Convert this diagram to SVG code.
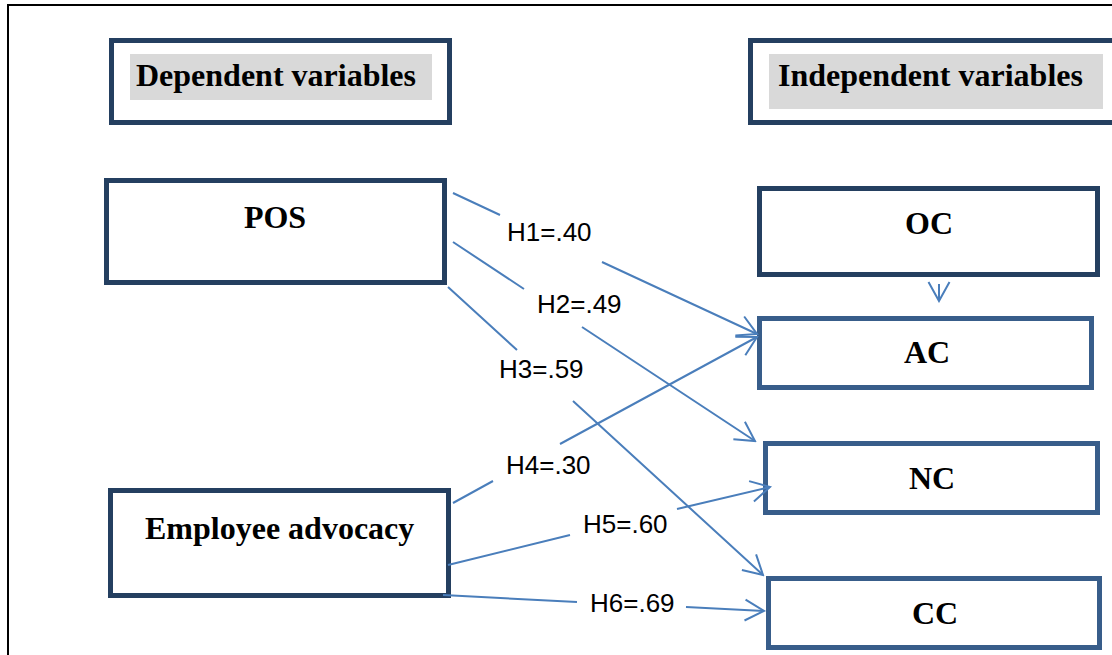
<svg xmlns="http://www.w3.org/2000/svg" width="1112" height="655" viewBox="0 0 1112 655">
  <style>
    .frame { fill: none; stroke: #000000; stroke-width: 2; }
    .dark { fill: #ffffff; stroke: #243F60; stroke-width: 5; }
    .mid { fill: #ffffff; stroke: #385D8A; stroke-width: 5; }
    .hl { fill: #D9D9D9; }
    .title { font-family: "Liberation Serif", "Times New Roman", serif; font-weight: bold; font-size: 32px; fill: #000000; }
    .label { font-family: "Liberation Sans", Arial, sans-serif; font-size: 26px; fill: #000000; }
    .conn { fill: none; stroke: #4A7EBB; stroke-width: 2; marker-end: url(#arrow); }
  </style>
  <defs>
    <marker id="arrow" markerUnits="userSpaceOnUse" viewBox="-22 -13 24 26" refX="0" refY="0" markerWidth="24" markerHeight="26" orient="auto">
      <path d="M -19 -10.5 L 0 0 L -19 10.5" fill="none" stroke="#4A7EBB" stroke-width="2"/>
    </marker>
  </defs>
  <rect x="0" y="0" width="1112" height="655" fill="#ffffff"/>
  <path class="frame" d="M 8 655 L 8 5 L 1112 5"/>

  <g id="dependent-header">
    <rect class="dark" x="111.5" y="40.5" width="338" height="82"/>
    <rect class="hl" x="130" y="54" width="302" height="46"/>
    <text class="title" x="136" y="86">Dependent variables</text>
  </g>
  <g id="independent-header">
    <rect class="dark" x="750.5" y="40.5" width="380" height="82"/>
    <rect class="hl" x="769" y="54" width="334" height="55"/>
    <text class="title" x="778" y="86">Independent variables</text>
  </g>

  <g id="pos">
    <rect class="dark" x="106.5" y="180.5" width="338" height="102"/>
    <text class="title" x="275" y="228" text-anchor="middle">POS</text>
  </g>
  <g id="employee-advocacy">
    <rect class="dark" x="110.5" y="490.5" width="338" height="105"/>
    <text class="title" x="145" y="539">Employee advocacy</text>
  </g>
  <g id="oc">
    <rect class="dark" x="759.5" y="188.5" width="338" height="86"/>
    <text class="title" x="929" y="234" text-anchor="middle">OC</text>
  </g>
  <g id="ac">
    <rect class="mid" x="759.5" y="318.5" width="332" height="69"/>
    <text class="title" x="927" y="363" text-anchor="middle">AC</text>
  </g>
  <g id="nc">
    <rect class="mid" x="765.5" y="443.5" width="332" height="69"/>
    <text class="title" x="932" y="489" text-anchor="middle">NC</text>
  </g>
  <g id="cc">
    <rect class="mid" x="768.5" y="578.5" width="331" height="69"/>
    <text class="title" x="935" y="624" text-anchor="middle">CC</text>
  </g>

  <g id="connectors">
    <path class="conn" d="M 939 284 L 939 301"/>
    <path class="conn" d="M 453 193 L 500 215 M 602 262 L 757 334"/>
    <path class="conn" d="M 453 242 L 524 289 M 582 327 L 755 441"/>
    <path class="conn" d="M 448 287 L 517 350 M 573 401 L 763 575"/>
    <path class="conn" d="M 453 503 L 493 481 M 560 444 L 757 337"/>
    <path class="conn" d="M 448 565 L 570 535 M 677 509 L 770 487"/>
    <path class="conn" d="M 443 595 L 577 602 M 686 607 L 764 611"/>
    <text class="label" x="507" y="241">H1=.40</text>
    <text class="label" x="537" y="313">H2=.49</text>
    <text class="label" x="499" y="378">H3=.59</text>
    <text class="label" x="506" y="474">H4=.30</text>
    <text class="label" x="583" y="533">H5=.60</text>
    <text class="label" x="590" y="612">H6=.69</text>
  </g>
</svg>
